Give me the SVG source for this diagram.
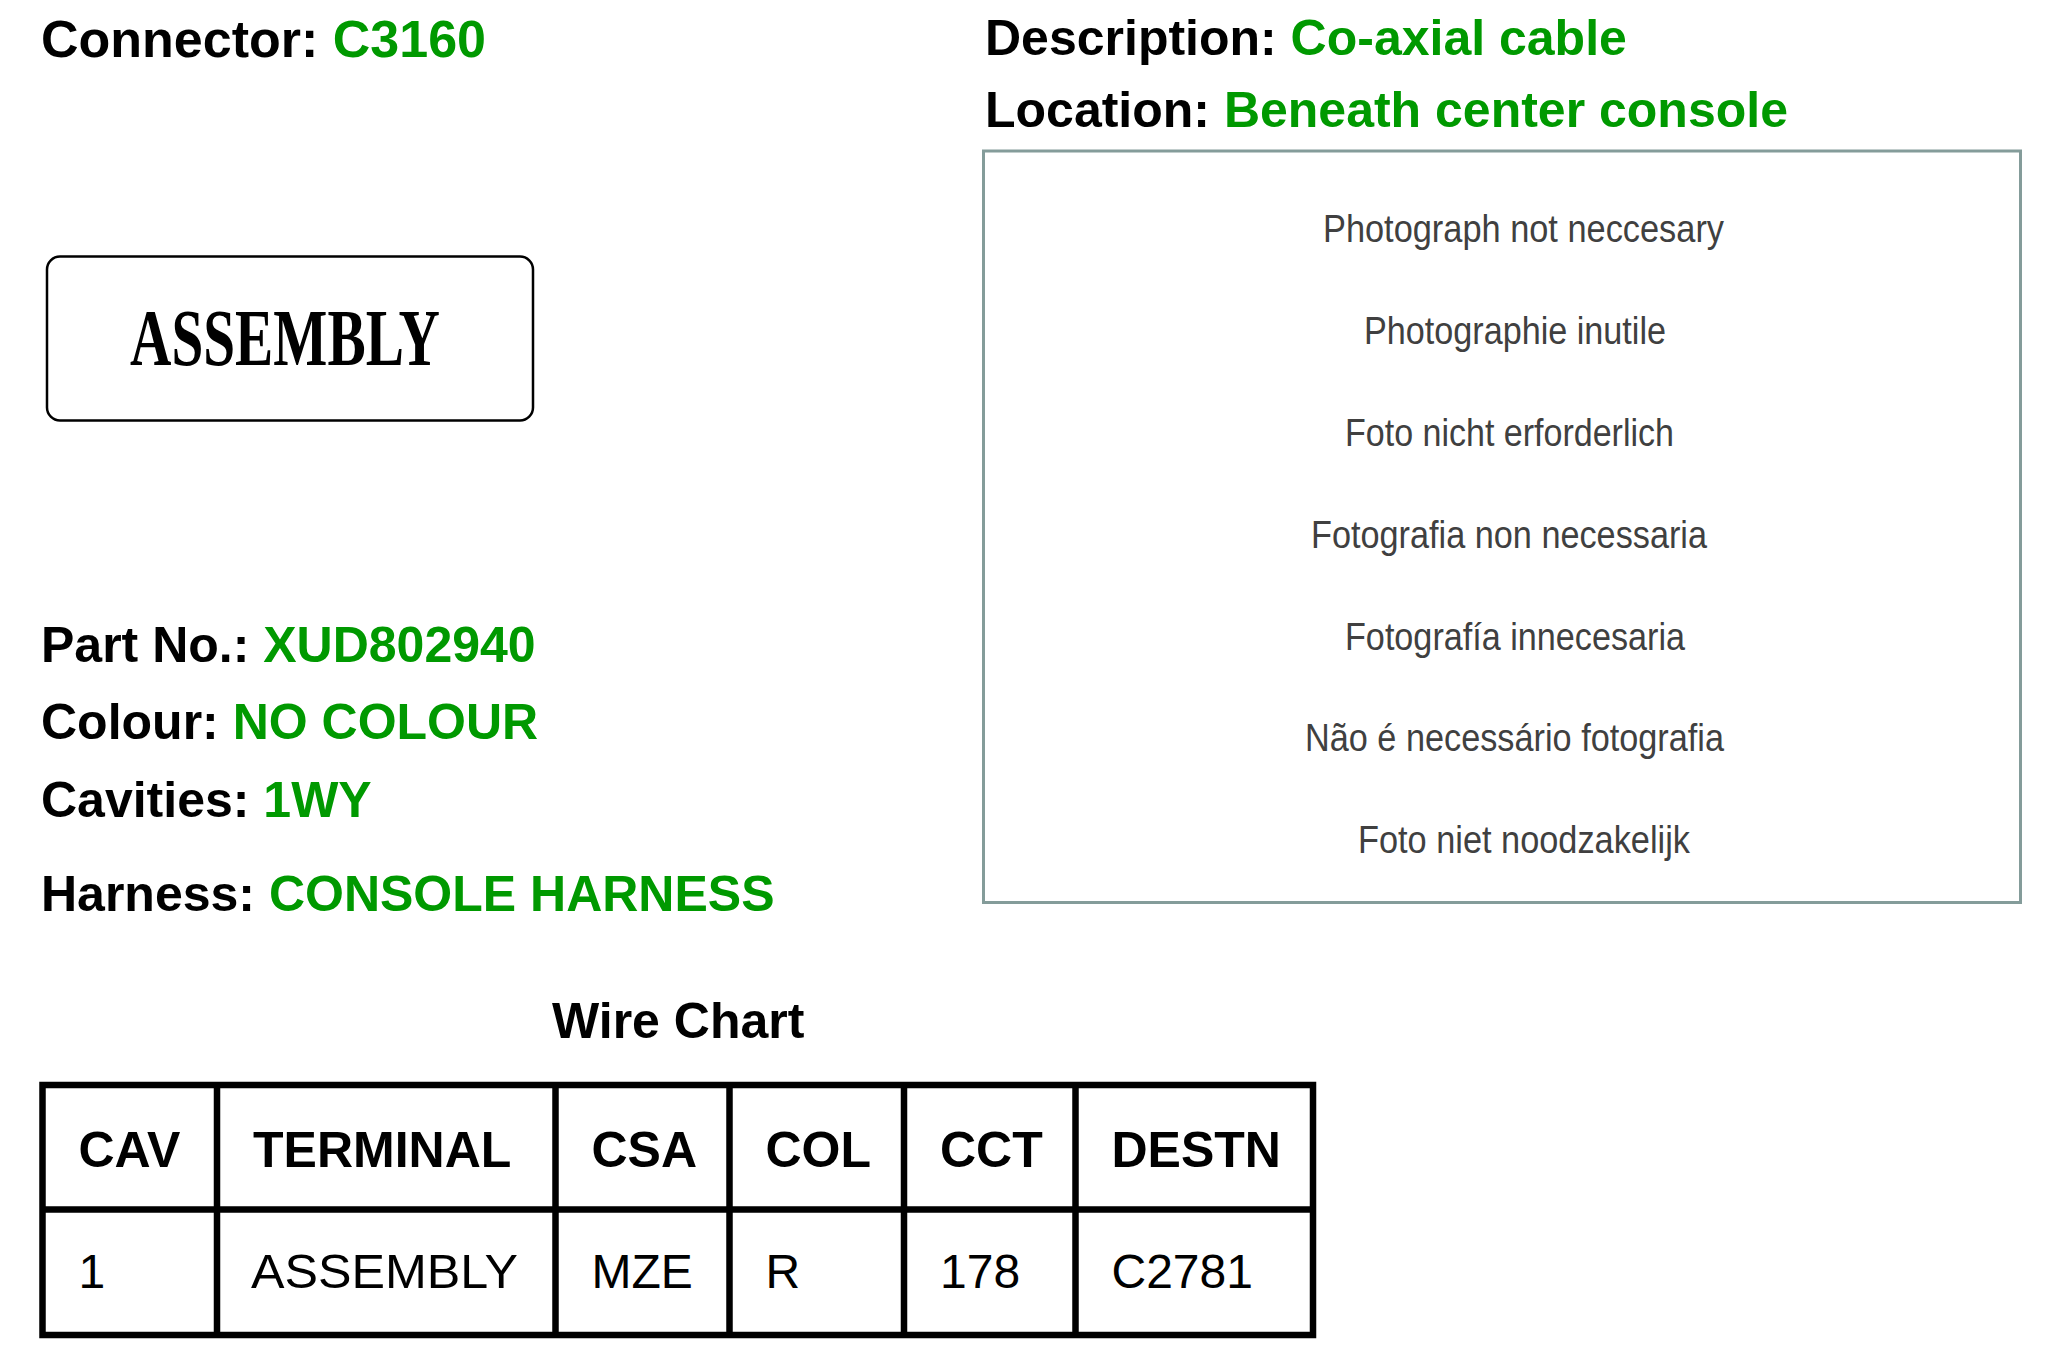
<svg xmlns="http://www.w3.org/2000/svg" width="2045" height="1365" viewBox="0 0 2045 1365">
<style>
.lbl{font-family:"Liberation Sans",Arial,sans-serif;font-weight:bold;font-size:50px;fill:#000}
.val{fill:#009900}
.photo{font-family:"Liberation Sans",Arial,sans-serif;font-size:38px;fill:#404040}
.th{font-family:"Liberation Sans",Arial,sans-serif;font-weight:bold;font-size:50px;fill:#000}
.td{font-family:"Liberation Sans",Arial,sans-serif;font-size:48px;fill:#000}
.grid{fill:none;stroke:#000;stroke-width:6.5}
</style>
<rect x="0" y="0" width="2045" height="1365" fill="#fff"/>
<g id="header-left">
<text class="lbl" x="41" y="57" style="font-size:52px">Connector: <tspan class="val">C3160</tspan></text>
</g>
<g id="header-right">
<text class="lbl" x="985" y="55">Description: <tspan class="val">Co-axial cable</tspan></text>
<text class="lbl" x="985" y="127">Location: <tspan class="val">Beneath center console</tspan></text>
</g>
<g id="assembly-node">
<rect x="47" y="256.5" width="486" height="164" rx="13" ry="13" fill="none" stroke="#000" stroke-width="2.5"/>
<text x="130" y="365" font-family="'Liberation Serif','Times New Roman',serif" font-weight="bold" font-size="80" textLength="310" lengthAdjust="spacingAndGlyphs" fill="#000">ASSEMBLY</text>
</g>
<g id="details">
<text class="lbl" x="41" y="662">Part No.: <tspan class="val">XUD802940</tspan></text>
<text class="lbl" x="41" y="739">Colour: <tspan class="val">NO COLOUR</tspan></text>
<text class="lbl" x="41" y="817">Cavities: <tspan class="val">1WY</tspan></text>
<text class="lbl" x="41" y="911">Harness: <tspan class="val">CONSOLE HARNESS</tspan></text>
</g>
<g id="photo-box">
<rect x="983.5" y="151" width="1037" height="751.5" fill="#fff" stroke="#849c9a" stroke-width="3"/>
<text class="photo" x="1323" y="242" textLength="401" lengthAdjust="spacingAndGlyphs">Photograph not neccesary</text>
<text class="photo" x="1364" y="344" textLength="302" lengthAdjust="spacingAndGlyphs">Photographie inutile</text>
<text class="photo" x="1345" y="446" textLength="329" lengthAdjust="spacingAndGlyphs">Foto nicht erforderlich</text>
<text class="photo" x="1311" y="548" textLength="396" lengthAdjust="spacingAndGlyphs">Fotografia non necessaria</text>
<text class="photo" x="1345" y="650" textLength="340" lengthAdjust="spacingAndGlyphs">Fotografía innecesaria</text>
<text class="photo" x="1305" y="751" textLength="419" lengthAdjust="spacingAndGlyphs">Não é necessário fotografia</text>
<text class="photo" x="1358" y="853" textLength="332" lengthAdjust="spacingAndGlyphs">Foto niet noodzakelijk</text>
</g>
<g id="wire-chart">
<text class="lbl" x="552" y="1038">Wire Chart</text>
<rect class="grid" x="42.5" y="1085" width="1270.5" height="250"/>
<path class="grid" d="M42.5 1209.5H1313M217 1085V1335M555.5 1085V1335M729.5 1085V1335M904 1085V1335M1075.5 1085V1335"/>
<text class="th" x="78.5" y="1167">CAV</text>
<text class="th" x="253" y="1167">TERMINAL</text>
<text class="th" x="591.5" y="1167">CSA</text>
<text class="th" x="765.5" y="1167">COL</text>
<text class="th" x="940" y="1167">CCT</text>
<text class="th" x="1111.5" y="1167">DESTN</text>
<text class="td" x="78.5" y="1288">1</text>
<text class="td" x="251" y="1288" textLength="267" lengthAdjust="spacingAndGlyphs">ASSEMBLY</text>
<text class="td" x="591.5" y="1288">MZE</text>
<text class="td" x="765.5" y="1288">R</text>
<text class="td" x="940" y="1288">178</text>
<text class="td" x="1111.5" y="1288">C2781</text>
</g>
<g id="connectors"/>
</svg>
